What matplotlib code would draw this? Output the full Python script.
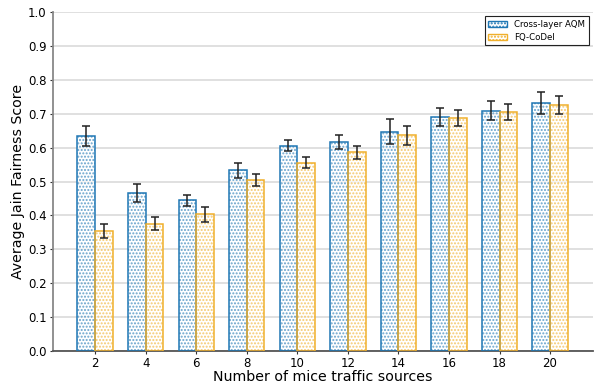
import numpy as np
import matplotlib
matplotlib.use("Agg")
import matplotlib.pyplot as plt
from matplotlib.patches import Patch

sources = [2, 4, 6, 8, 10, 12, 14, 16, 18, 20]
aqm_mean = [0.635, 0.467, 0.445, 0.533, 0.605, 0.617, 0.647, 0.691, 0.709, 0.732]
aqm_err = [0.030, 0.027, 0.016, 0.022, 0.016, 0.021, 0.036, 0.026, 0.029, 0.032]
codel_mean = [0.354, 0.376, 0.404, 0.505, 0.556, 0.586, 0.637, 0.687, 0.705, 0.725]
codel_err = [0.021, 0.020, 0.022, 0.018, 0.017, 0.020, 0.028, 0.024, 0.024, 0.026]

blue = "#1f77b4"
orange = "#f0b02c"
plt.rcParams['hatch.linewidth'] = 1.0

fig = plt.figure(figsize=(5.99, 3.85), dpi=100)
ax = fig.add_axes([0.088, 0.088, 0.902, 0.881])

x = np.arange(len(sources))
w = 0.35

for off, vals, errs, col in [(-w / 2, aqm_mean, aqm_err, blue),
                             (w / 2, codel_mean, codel_err, orange)]:
    # dotted fill drawn in a paler tone, then the solid outline on top
    ax.bar(x + off, vals, w, color="white", edgecolor=col, alpha=0.65,
           hatch=".....", linewidth=0, zorder=2)
    ax.bar(x + off, vals, w, color="none", edgecolor=col, linewidth=1.1, zorder=3)
    ax.errorbar(x + off, vals, yerr=errs, fmt="none", ecolor="#222222",
                elinewidth=1.1, capsize=3, capthick=1.1, zorder=4)

ax.set_xlim(-0.84, 9.85)
ax.set_ylim(0, 1.0)
ax.set_yticks(np.arange(0, 1.01, 0.1))
ax.set_yticklabels([f"{v:.1f}" for v in np.arange(0, 1.01, 0.1)])
ax.set_xticks(x)
ax.set_xticklabels([str(s) for s in sources])
ax.tick_params(labelsize=8.5, length=2.5, pad=2, colors="#333333", labelcolor="black")
ax.yaxis.grid(True, color="#dddddd", linewidth=1.3, zorder=0)
ax.set_axisbelow(True)

for side in ["top", "right"]:
    ax.spines[side].set_visible(False)
ax.spines["left"].set_color("#888888")
ax.spines["left"].set_linewidth(1.3)
ax.spines["bottom"].set_color("#555555")
ax.spines["bottom"].set_linewidth(1.3)

ax.set_xlabel("Number of mice traffic sources", fontsize=10.2, labelpad=0)
ax.set_ylabel("Average Jain Fairness Score", fontsize=10.2, labelpad=2)

handles = [Patch(facecolor="white", edgecolor=blue, hatch=".....", label="Cross-layer AQM"),
           Patch(facecolor="white", edgecolor=orange, hatch=".....", label="FQ-CoDel")]
leg = ax.legend(handles=handles, loc="upper right", fontsize=6.2, fancybox=False,
                edgecolor="#222222", framealpha=1, handlelength=2.2,
                borderaxespad=0.5)
leg.get_frame().set_linewidth(0.8)

fig.savefig("out.png", dpi=100)
